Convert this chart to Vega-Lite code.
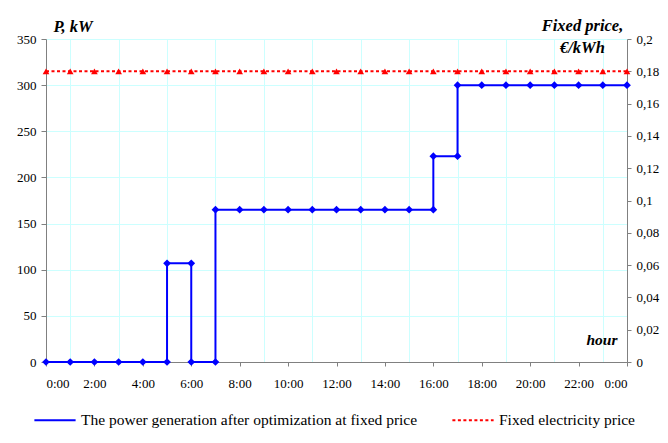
{
  "$schema": "https://vega.github.io/schema/vega-lite/v6.json",
  "width": 581,
  "height": 323,
  "autosize": {"type": "none"},
  "padding": {"left": 46, "top": 39, "right": 41, "bottom": 81},
  "background": "white",
  "config": {
    "view": {"stroke": null},
    "font": "'Liberation Serif', 'Times New Roman', serif",
    "axis": {
      "labelFont": "'Liberation Serif', 'Times New Roman', serif",
      "labelFontSize": 13,
      "labelColor": "#000000",
      "domainColor": "#808080",
      "tickColor": "#808080",
      "tickSize": 5,
      "gridColor": "#ccffff",
      "gridWidth": 1,
      "titleFont": "'Liberation Serif', 'Times New Roman', serif",
      "titleFontSize": 16.5,
      "titleFontWeight": "bold",
      "titleFontStyle": "italic",
      "titleColor": "#000000"
    },
    "legend": {
      "labelFont": "'Liberation Serif', 'Times New Roman', serif",
      "labelFontSize": 15.5,
      "labelColor": "#000000",
      "symbolType": "stroke",
      "symbolStrokeWidth": 2,
      "symbolSize": 1700,
      "columnPadding": 30,
      "labelOffset": 4,
      "labelLimit": 500
    }
  },
  "datasets": {
    "power": [
      {"i": 0, "t": 0, "p": 0},
      {"i": 1, "t": 1, "p": 0},
      {"i": 2, "t": 2, "p": 0},
      {"i": 3, "t": 3, "p": 0},
      {"i": 4, "t": 4, "p": 0},
      {"i": 5, "t": 5, "p": 0},
      {"i": 6, "t": 5, "p": 107},
      {"i": 7, "t": 6, "p": 107},
      {"i": 8, "t": 6, "p": 0},
      {"i": 9, "t": 7, "p": 0},
      {"i": 10, "t": 7, "p": 165},
      {"i": 11, "t": 8, "p": 165},
      {"i": 12, "t": 9, "p": 165},
      {"i": 13, "t": 10, "p": 165},
      {"i": 14, "t": 11, "p": 165},
      {"i": 15, "t": 12, "p": 165},
      {"i": 16, "t": 13, "p": 165},
      {"i": 17, "t": 14, "p": 165},
      {"i": 18, "t": 15, "p": 165},
      {"i": 19, "t": 16, "p": 165},
      {"i": 20, "t": 16, "p": 223},
      {"i": 21, "t": 17, "p": 223},
      {"i": 22, "t": 17, "p": 300},
      {"i": 23, "t": 18, "p": 300},
      {"i": 24, "t": 19, "p": 300},
      {"i": 25, "t": 20, "p": 300},
      {"i": 26, "t": 21, "p": 300},
      {"i": 27, "t": 22, "p": 300},
      {"i": 28, "t": 23, "p": 300},
      {"i": 29, "t": 24, "p": 300}
    ],
    "price": [
      {"t": 0, "price": 0.18}, {"t": 1, "price": 0.18}, {"t": 2, "price": 0.18},
      {"t": 3, "price": 0.18}, {"t": 4, "price": 0.18}, {"t": 5, "price": 0.18},
      {"t": 6, "price": 0.18}, {"t": 7, "price": 0.18}, {"t": 8, "price": 0.18},
      {"t": 9, "price": 0.18}, {"t": 10, "price": 0.18}, {"t": 11, "price": 0.18},
      {"t": 12, "price": 0.18}, {"t": 13, "price": 0.18}, {"t": 14, "price": 0.18},
      {"t": 15, "price": 0.18}, {"t": 16, "price": 0.18}, {"t": 17, "price": 0.18},
      {"t": 18, "price": 0.18}, {"t": 19, "price": 0.18}, {"t": 20, "price": 0.18},
      {"t": 21, "price": 0.18}, {"t": 22, "price": 0.18}, {"t": 23, "price": 0.18},
      {"t": 24, "price": 0.18}
    ]
  },
  "layer": [
    {
      "data": {"name": "power"},
      "transform": [{"calculate": "'The power generation after optimization at fixed price'", "as": "series"}],
      "mark": {"type": "line", "strokeWidth": 2, "point": {"shape": "diamond", "filled": true, "size": 60}},
      "encoding": {
        "x": {
          "field": "t", "type": "quantitative",
          "scale": {"domain": [0, 24], "nice": false},
          "axis": {
            "values": [0, 2, 4, 6, 8, 10, 12, 14, 16, 18, 20, 22, 24],
            "grid": false,
            "labelExpr": "(datum.value % 24) + ':00'",
            "labelPadding": 11,
            "tickSize": 4,
            "title": "hour",
            "titleFontSize": 15.5,
            "titleAnchor": null,
            "titleAlign": "right",
            "titleBaseline": "alphabetic",
            "titleX": 571,
            "titleY": -18
          }
        },
        "y": {
          "field": "p", "type": "quantitative",
          "scale": {"domain": [0, 350], "nice": false},
          "axis": {
            "values": [0, 50, 100, 150, 200, 250, 300, 350],
            "grid": true,
            "labelPadding": 5,
            "title": "P, kW",
            "titleAngle": 0,
            "titleAnchor": null,
            "titleAlign": "left",
            "titleBaseline": "alphabetic",
            "titleX": 7,
            "titleY": -8
          }
        },
        "order": {"field": "i", "type": "quantitative"},
        "color": {
          "field": "series", "type": "nominal",
          "scale": {
            "domain": ["The power generation after optimization at fixed price", "Fixed electricity price"],
            "range": ["#0000ff", "#ff0000"]
          },
          "legend": {"orient": "none", "direction": "horizontal", "title": null, "legendX": -13, "legendY": 359}
        },
        "strokeDash": {
          "field": "series", "type": "nominal",
          "scale": {
            "domain": ["The power generation after optimization at fixed price", "Fixed electricity price"],
            "range": [[1, 0], [3, 2.5]]
          },
          "legend": {"orient": "none", "direction": "horizontal", "title": null, "legendX": -13, "legendY": 359}
        }
      }
    },
    {
      "data": {"name": "price"},
      "transform": [{"calculate": "'Fixed electricity price'", "as": "series"}],
      "mark": {"type": "line", "strokeWidth": 2, "point": {"shape": "triangle-up", "filled": true, "size": 45}},
      "encoding": {
        "x": {
          "field": "t", "type": "quantitative",
          "axis": {
            "values": [1, 3, 5, 7, 9, 11, 13, 15, 17, 19, 21, 23],
            "grid": true,
            "labels": false,
            "ticks": false,
            "domain": false,
            "title": null
          }
        },
        "y": {
          "field": "price", "type": "quantitative",
          "scale": {"domain": [0, 0.2], "nice": false},
          "axis": {
            "orient": "right",
            "values": [0, 0.02, 0.04, 0.06, 0.08, 0.1, 0.12, 0.14, 0.16, 0.18, 0.2],
            "grid": false,
            "labelPadding": 5,
            "tickSize": 4,
            "labelExpr": "replace(format(datum.value, '.2~f'), '.', ',')",
            "title": ["Fixed price,", "€/kWh"],
            "titleAngle": 0,
            "titleAnchor": null,
            "titleAlign": "center",
            "titleBaseline": "alphabetic",
            "titleLineHeight": 22,
            "titleX": -45,
            "titleY": -9
          }
        },
        "color": {"field": "series", "type": "nominal"},
        "strokeDash": {"field": "series", "type": "nominal"}
      }
    }
  ],
  "resolve": {"scale": {"y": "independent"}, "axis": {"x": "independent"}}
}
